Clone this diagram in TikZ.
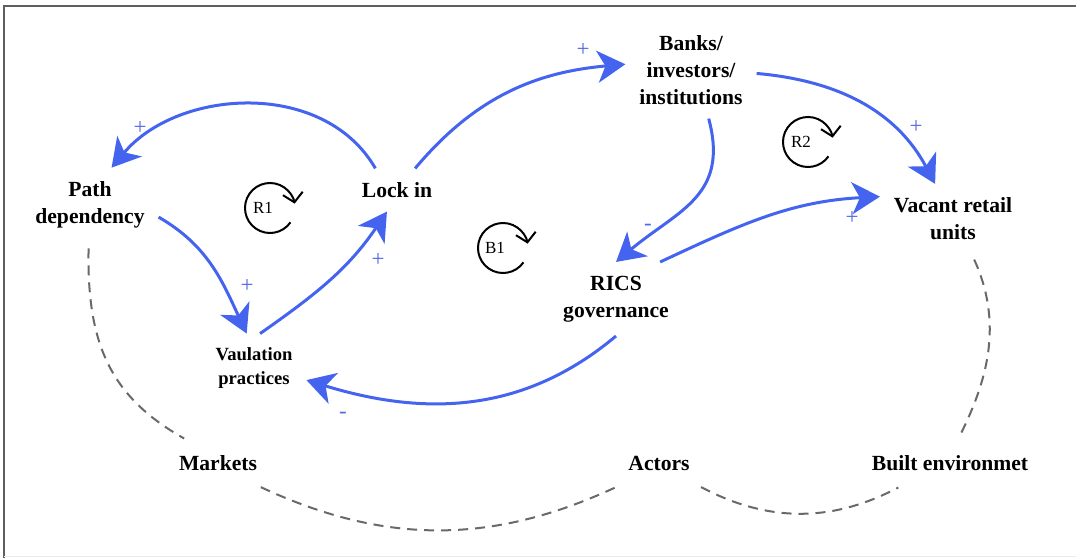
\documentclass[tikz,border=0pt]{standalone}
\usepackage{fontspec}
\setmainfont{Liberation Serif}
\usetikzlibrary{arrows.meta}
\definecolor{linkblue}{RGB}{68,100,240}
\definecolor{signblue}{RGB}{85,105,225}
\definecolor{dashgray}{RGB}{105,105,105}
\definecolor{framegray}{RGB}{95,95,95}

\begin{document}
\begin{tikzpicture}[x=0.5pt,y=0.5pt,
  factor/.style={font=\fontsize{10.8}{13.5}\selectfont\bfseries, align=center, inner sep=3pt, outer sep=4pt},
  link/.style={draw=linkblue, line width=1.5pt, -{Stealth[length=14pt,width=16pt,inset=4pt]}},
  sign/.style={text=signblue, font=\fontsize{11.5}{11.5}\selectfont, inner sep=0pt},
  tie/.style={draw=dashgray, line width=1pt, dash pattern=on 5pt off 3.5pt, shorten <=3pt, shorten >=3pt},
  looplbl/.style={font=\fontsize{8.5}{8.5}\selectfont, inner sep=0pt},
  looparc/.style={draw=black, line width=1pt, -{Straight Barb[length=4.5pt,width=10pt]}}]

\useasboundingbox (0,0) rectangle (1076,558);
\draw[framegray, line width=1pt] (4,0) -- (4,552) -- (1076,552);
\draw[black!8, line width=0.5pt] (4,2) -- (1076,2);

\node[factor] (path) at (90,353) {Path\\dependency};
\node[factor] (lock) at (397,368) {Lock in};
\node[factor] (banks) at (691,488) {Banks/\\investors/\\institutions};
\node[factor] (vacant) at (953,339) {Vacant retail\\units};
\node[factor] (rics) at (616,259) {RICS\\governance};
\node[factor, font=\fontsize{9.3}{12}\selectfont\bfseries] (vaul) at (254,190) {Vaulation\\practices};
\node[factor] (markets) at (218,95) {Markets};
\node[factor] (actors) at (659,95) {Actors};
\node[factor] (built) at (950,95) {Built environmet};

\node[looplbl] (r1) at (263,350) {R1};
\node[looplbl] (b1) at (495,310) {B1};
\node[looplbl] (r2) at (801,416) {R2};
\draw[looparc] (r1.center) ++(3.5pt,0) ++(-35:12.5pt) arc[start angle=-35, end angle=-350, radius=12.5pt];
\draw[looparc] (b1.center) ++(4pt,0) ++(-35:12.5pt) arc[start angle=-35, end angle=-350, radius=12.5pt];
\draw[looparc] (r2.center) ++(3.5pt,0) ++(-35:12.5pt) arc[start angle=-35, end angle=-350, radius=12.5pt];

\draw[link] (lock.135) to[out=120,in=50] (path.60);
\draw[link] (path.-10) to[out=-30,in=115] (vaul.102);
\draw[link] (vaul.80) to[out=35,in=-124] (lock.-115);
\draw[link] (lock.50) to[out=50,in=185] (banks.175);
\draw[link] (banks.-3) to[out=-5,in=118] (vacant.117);
\draw[link] (banks.-70) to[out=-75,in=40,looseness=1.2] (rics.90);
\draw[link] (rics.40) to[out=25,in=183] (vacant.163);
\draw[link] (rics.-90) to[out=-140,in=-17] (vaul.-13);

\node[sign] (s1) at (140,430) {+};
\node[sign] (s2) at (247,272) {+};
\node[sign] (s3) at (378,298) {+};
\node[sign] (s4) at (583,508) {+};
\node[sign] (s5) at (916,431) {+};
\node[sign] (s6) at (648,331) {-};
\node[sign] (s7) at (852,340) {+};
\node[sign] (s8) at (343,143) {-};

\draw[tie] (path.-92) .. controls +(-2,-100) and +(-80,45) .. (markets.143);
\draw[tie] (markets.-30) to[out=-25,in=-155] (actors.-150);
\draw[tie] (actors.-30) to[out=-28,in=-152] (built.-155);
\draw[tie] (vacant.-62) .. controls +(32,-70) and +(30,60) .. (built.72);
\end{tikzpicture}
\end{document}
